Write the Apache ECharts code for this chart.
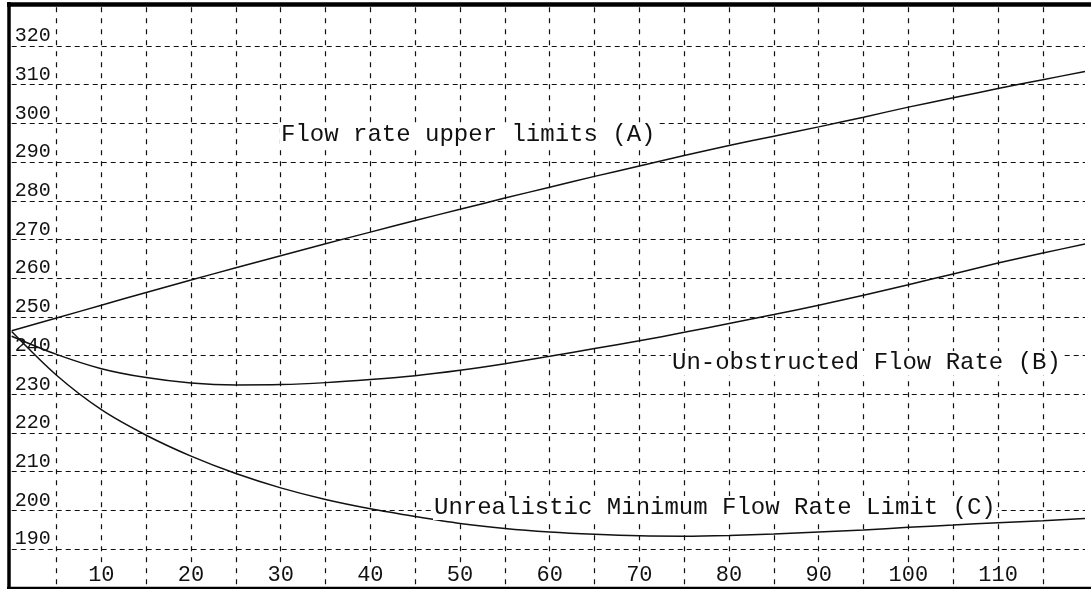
<!DOCTYPE html>
<html>
<head>
<meta charset="utf-8">
<script src="https://cdn.jsdelivr.net/npm/echarts@6/dist/echarts.min.js"></script>
<style>
  html, body { margin: 0; padding: 0; background: #fff; }
  #chart { width: 1091px; height: 589px; }
</style>
</head>
<body>
<div id="chart"></div>
<script>
// ---- data ----
const xValues = [0, 5, 10, 15, 20, 25, 30, 35, 40, 45, 50, 55, 60, 65, 70, 75, 80, 85, 90, 95, 100, 105, 110, 115, 119.7];
const flowA = [246.4, 249.7, 253.0, 256.3, 259.5, 262.7, 265.8, 268.9, 271.9, 274.9, 277.8, 280.7, 283.5, 286.3, 289.0, 291.7, 294.3, 296.7, 299.1, 301.6, 304.2, 306.6, 309.0, 311.3, 313.4];
const flowB = [245.0, 240.3, 236.6, 234.3, 232.9, 232.4, 232.5, 233.0, 233.8, 234.8, 236.2, 237.9, 239.8, 241.8, 243.8, 246.0, 248.3, 250.6, 253.0, 255.6, 258.3, 261.1, 263.9, 266.5, 268.8];
const flowC = [246.2, 234.9, 226.0, 219.4, 214.0, 209.5, 205.8, 202.8, 200.4, 198.4, 196.6, 195.3, 194.4, 193.8, 193.4, 193.3, 193.5, 193.9, 194.4, 194.9, 195.6, 196.2, 196.8, 197.3, 197.9];
const xTickLabels = [10, 20, 30, 40, 50, 60, 70, 80, 90, 100, 110];
const yTickLabels = [190, 200, 210, 220, 230, 240, 250, 260, 270, 280, 290, 300, 310, 320];
const labelA = 'Flow rate upper limits (A)';
const labelB = 'Un-obstructed Flow Rate (B)';
const labelC = 'Unrealistic Minimum Flow Rate Limit (C)';

const FONT = '"Liberation Mono", "DejaVu Sans Mono", monospace';
const chart = echarts.init(document.getElementById('chart'), null, { renderer: 'canvas' });

const pairs = arr => xValues.map((x, i) => [x, arr[i]]);
const lineSeries = (name, arr) => ({
  name, type: 'line', data: pairs(arr), showSymbol: false, smooth: 0.3,
  lineStyle: { color: '#111', width: 1.5 }, silent: true, animation: false
});

const annot = (text, x, y) => ({
  type: 'text', left: x, top: y - 12, z: 100,
  style: { text, font: '24px ' + FONT, fill: '#111', backgroundColor: '#fff', padding: [0, 1] }
});

chart.setOption({
  animation: false,
  backgroundColor: '#fff',
  grid: { left: 11.7, right: 0, top: 7.3, bottom: 1.3, containLabel: false },
  xAxis: {
    type: 'value', min: 0, max: 119.7, interval: 5,
    axisLine: { show: false }, axisTick: { show: false },
    splitLine: { show: true, showMinLine: false, showMaxLine: false,
      lineStyle: { color: '#111', width: 1.2, type: [5, 6] } },
    axisLabel: {
      inside: true, margin: 13, verticalAlign: 'middle', color: '#111',
      fontFamily: FONT, fontSize: 22, backgroundColor: '#fff', padding: [1, 3],
      formatter: v => xTickLabels.includes(v) ? String(v) : ''
    }
  },
  yAxis: {
    type: 'value', min: 180, max: 330, interval: 10,
    axisLine: { show: false }, axisTick: { show: false },
    splitLine: { show: true, showMinLine: false, showMaxLine: false,
      lineStyle: { color: '#111', width: 1.2, type: [5, 4] } },
    axisLabel: {
      inside: true, margin: 3, align: 'left', verticalAlign: 'bottom', color: '#111',
      fontFamily: FONT, fontSize: 20,
      formatter: v => yTickLabels.includes(v) ? String(v) : ''
    }
  },
  series: [
    lineSeries('A', flowA),
    lineSeries('B', flowB),
    lineSeries('C', flowC)
  ],
  graphic: [
    annot(labelA, 280, 135),
    annot(labelB, 671, 363),
    annot(labelC, 433, 508),
    { type: 'line', z: 101, shape: { x1: 9, y1: 2, x2: 9, y2: 589 }, style: { stroke: '#000', lineWidth: 3.5 } },
    { type: 'line', z: 101, shape: { x1: 7, y1: 4.5, x2: 1091, y2: 4.5 }, style: { stroke: '#000', lineWidth: 4.5 } },
    { type: 'line', z: 101, shape: { x1: 7, y1: 588, x2: 1091, y2: 588 }, style: { stroke: '#000', lineWidth: 2.5 } }
  ]
});
</script>
</body>
</html>
